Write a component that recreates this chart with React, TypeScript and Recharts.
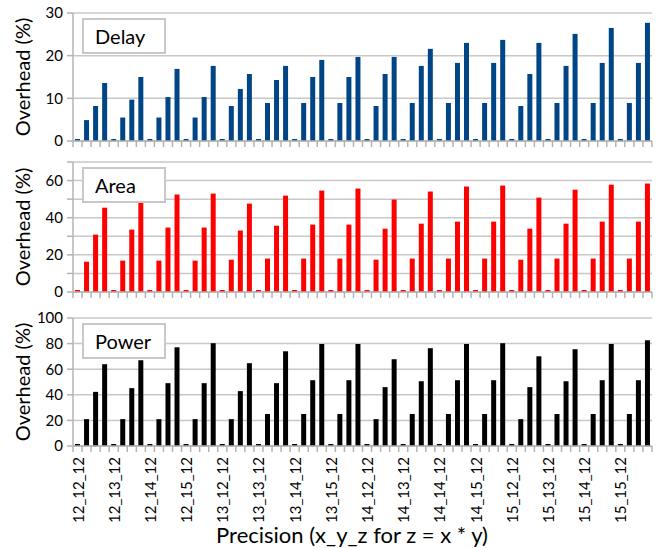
import React from "react";
import { BarChart, Bar, XAxis, YAxis, CartesianGrid } from "recharts";

// precision configurations, one group of 4 bars each
const groups = [
  "12_12_12", "12_13_12", "12_14_12", "12_15_12",
  "13_12_12", "13_13_12", "13_14_12", "13_15_12",
  "14_12_12", "14_13_12", "14_14_12", "14_15_12",
  "15_12_12", "15_13_12", "15_14_12", "15_15_12",
];

const delay = [
  0, 4.9, 8.2, 13.6, 0, 5.5, 9.7, 15.0, 0, 5.5, 10.3, 16.9, 0, 5.5, 10.3, 17.6,
  0, 8.2, 12.2, 15.7, 0, 8.9, 14.3, 17.6, 0, 8.9, 15.0, 19.0, 0, 8.9, 15.0, 19.7,
  0, 8.2, 15.7, 19.7, 0, 8.9, 17.6, 21.6, 0, 8.9, 18.3, 23.0, 0, 8.9, 18.3, 23.7,
  0, 8.2, 15.7, 23.0, 0, 8.9, 17.6, 25.1, 0, 8.9, 18.3, 26.5, 0, 8.9, 18.3, 27.7,
];

const area = [
  0, 16.3, 30.9, 45.4, 0, 16.9, 33.6, 48.0, 0, 16.9, 34.7, 52.5, 0, 16.9, 34.7, 53.0,
  0, 17.4, 33.1, 47.6, 0, 18.0, 35.7, 51.9, 0, 18.0, 36.3, 54.6, 0, 18.0, 36.3, 55.7,
  0, 17.4, 34.1, 49.8, 0, 18.0, 36.8, 54.1, 0, 18.0, 37.9, 56.8, 0, 18.0, 37.9, 57.3,
  0, 17.4, 34.1, 50.8, 0, 18.0, 36.8, 55.1, 0, 18.0, 37.9, 57.8, 0, 18.0, 37.9, 58.4,
];

const power = [
  0, 21.0, 42.3, 63.9, 0, 21.0, 45.2, 67.0, 0, 21.0, 49.1, 77.1, 0, 21.0, 49.1, 80.3,
  0, 21.0, 42.9, 64.7, 0, 25.0, 49.1, 74.0, 0, 25.0, 51.4, 79.7, 0, 25.0, 51.4, 79.7,
  0, 21.0, 46.0, 67.8, 0, 25.0, 50.6, 76.4, 0, 25.0, 51.4, 79.7, 0, 25.0, 51.4, 80.3,
  0, 21.0, 46.0, 70.1, 0, 25.0, 50.6, 75.6, 0, 25.0, 51.4, 79.7, 0, 25.0, 51.4, 82.6,
];

const delayTicks = [0, 10, 20, 30];
const areaTicks = [0, 10, 20, 30, 40, 50, 60, 70];
const powerTicks = [0, 20, 40, 60, 80, 100];

const FONT = "Lato, 'Open Sans', sans-serif";
const W = 657;
const LEFT = 73;
const RIGHT = 652;
const N = delay.length;
const STEP = (RIGHT - LEFT) / N;
const GRID = "#c8c8c8";
const AXIS = "#b3b3b3";

const makeRows = (vals: number[]) =>
  vals.map((v, i) => ({ key: "c" + i, label: i % 4 === 0 ? groups[i / 4] : "", v }));

function XTick(props: any) {
  const { x, y, index, payload, showLabels } = props;
  const idx = index ?? payload.index;
  const lx = x - STEP / 2;
  return (
    <g>
      <line x1={lx} y1={y} x2={lx} y2={y + 6} stroke={AXIS} strokeWidth={1.5} />
      {idx === N - 1 && (
        <line x1={x + STEP / 2} y1={y} x2={x + STEP / 2} y2={y + 6} stroke={AXIS} strokeWidth={1.5} />
      )}
      {showLabels && idx % 4 === 0 && (
        <text
          x={x}
          y={y + 11}
          transform={`rotate(-90, ${x}, ${y + 11})`}
          textAnchor="end"
          dominantBaseline="central"
          fontSize={15}
          fontFamily={FONT}
          fill="#000"
        >
          {groups[idx / 4]}
        </text>
      )}
    </g>
  );
}

function YTitle(props: any) {
  const vb = props.viewBox;
  const cy = vb.y + vb.height / 2;
  return (
    <text
      x={22}
      y={cy}
      transform={`rotate(-90, 22, ${cy})`}
      textAnchor="middle"
      dominantBaseline="central"
      fontSize={20}
      fontFamily={FONT}
      fill="#000"
    >
      Overhead (%)
    </text>
  );
}

type PanelProps = {
  name: string;
  values: number[];
  color: string;
  ticks: number[];
  labelStep: number;
  top: number;
  marginTop: number;
  plotH: number;
  xH: number;
  showLabels?: boolean;
};

function Panel({ name, values, color, ticks, labelStep, top, marginTop, plotH, xH, showLabels }: PanelProps) {
  const max = ticks[ticks.length - 1];
  return (
    <div style={{ position: "absolute", left: 0, top }}>
      <BarChart
        width={W}
        height={marginTop + plotH + xH}
        data={makeRows(values)}
        margin={{ top: marginTop, right: W - RIGHT, bottom: 0, left: 0 }}
      >
        <CartesianGrid vertical={false} stroke={GRID} strokeWidth={1.5} />
        <XAxis
          dataKey="key"
          interval={0}
          height={xH}
          axisLine={{ stroke: AXIS, strokeWidth: 1.5 }}
          tickLine={false}
          tickSize={0}
          tickMargin={0}
          tick={<XTick showLabels={showLabels} />}
        />
        <YAxis
          type="number"
          domain={[0, max]}
          ticks={ticks}
          interval={0}
          width={LEFT}
          axisLine={{ stroke: AXIS, strokeWidth: 1.5 }}
          tickLine={{ stroke: AXIS, strokeWidth: 1.5 }}
          tickSize={6}
          tickMargin={4}
          tick={{ fill: "#000", fontSize: 15, fontFamily: FONT }}
          tickFormatter={(v: number) => (v % labelStep === 0 ? String(v) : "")}
          label={<YTitle />}
        />
        <YAxis
          yAxisId="r"
          orientation="right"
          width={0}
          tick={false}
          tickLine={false}
          axisLine={{ stroke: AXIS, strokeWidth: 1.5 }}
        />
        <Bar dataKey="v" fill={color} barSize={5} minPointSize={2} isAnimationActive={false} />
      </BarChart>
      <div
        style={{
          position: "absolute",
          left: 82,
          top: marginTop + 5,
          width: 84,
          height: 36,
          boxSizing: "border-box",
          border: "2px solid #c8c8c8",
          background: "#fff",
          fontFamily: FONT,
          fontSize: 20,
          lineHeight: "32px",
          paddingLeft: 11,
          color: "#000",
        }}
      >
        {name}
      </div>
    </div>
  );
}

export default function App() {
  return (
    <div style={{ position: "absolute", left: 0, top: 0, width: W, height: 548, background: "#fff" }}>
      <Panel name="Delay" values={delay} color="#004586" ticks={delayTicks} labelStep={10}
        top={0} marginTop={13} plotH={128} xH={9} />
      <Panel name="Area" values={area} color="#ff0000" ticks={areaTicks} labelStep={20}
        top={150} marginTop={12} plotH={130} xH={8} />
      <Panel name="Power" values={power} color="#000000" ticks={powerTicks} labelStep={20}
        top={300} marginTop={18} plotH={128} xH={102} showLabels />
      <div
        style={{
          position: "absolute",
          left: 0,
          width: 704,
          top: 524,
          textAlign: "center",
          fontFamily: FONT,
          fontSize: 22,
          lineHeight: "22px",
          color: "#000",
        }}
      >
        Precision (x_y_z for z = x * y)
      </div>
    </div>
  );
}
